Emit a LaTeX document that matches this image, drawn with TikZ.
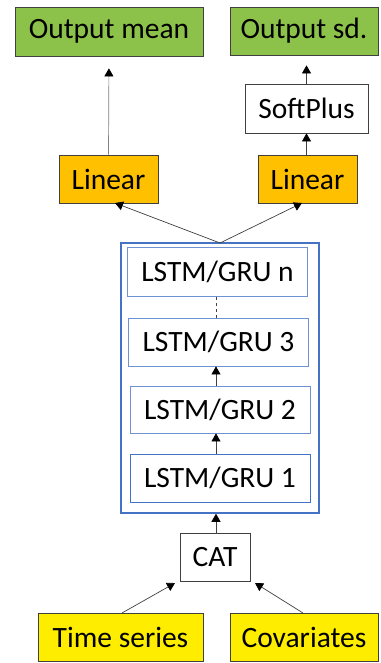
\documentclass[tikz,border=0pt]{standalone}
\usepackage{fontspec}
\setmainfont{Carlito}
\usetikzlibrary{arrows.meta,calc}
\definecolor{outgreen}{RGB}{141,194,74}
\definecolor{lingold}{RGB}{255,192,0}
\definecolor{inyellow}{RGB}{255,237,0}
\definecolor{stackblue}{RGB}{68,114,196}
\definecolor{cellblue}{RGB}{110,146,210}
\definecolor{wire}{RGB}{64,64,64}
\tikzset{
  box/.style={draw=wire, line width=0.8pt, inner sep=0pt, minimum width=#1,
    font=\fontsize{29.5}{35}\selectfont},
  outbox/.style={box=#1, fill=outgreen},
  linbox/.style={box=#1, fill=lingold},
  inbox/.style={box=#1, fill=inyellow},
  cell/.style={box=180pt, fill=white, draw=cellblue},
  link/.style={draw=wire, line width=0.7pt, -{Triangle[width=9pt,length=8pt,color=black]}},
}
\begin{document}
\begin{tikzpicture}[x=1pt,y=-1pt]
\useasboundingbox (0,0) rectangle (380,663);
% outputs
\node[outbox=188pt, minimum height=49pt] (outmean) at (109,31.5) {Output mean};
\node[outbox=148pt, minimum height=48pt] (outsd) at (304,31) {Output sd.};
\node[box=123pt, minimum height=49pt, fill=white] (soft) at (306.5,108.5) {SoftPlus};
% linear heads
\node[linbox=99pt, minimum height=48pt] (linL) at (108.5,179) {Linear};
\node[linbox=99pt, minimum height=48pt] (linR) at (307.5,179) {Linear};
% recurrent stack
\node[draw=stackblue, line width=1.5pt, minimum width=198pt, minimum height=270pt, inner sep=0pt] (stack) at (220,378) {};
\node[cell, minimum height=49pt] (ln) at (217.5,272) {LSTM/GRU n};
\node[cell, minimum height=48pt] (l3) at (218.5,342) {LSTM/GRU 3};
\node[cell, minimum height=47pt] (l2) at (220,409.5) {LSTM/GRU 2};
\node[cell, minimum height=48pt, draw=stackblue] (l1) at (220,478) {LSTM/GRU 1};
% inputs
\node[box=70pt, minimum height=48pt, fill=white] (cat) at (215,557) {CAT};
\node[inbox=165pt, minimum height=48pt] (ts) at (120.5,637) {Time series};
\node[inbox=148pt, minimum height=48pt] (cov) at (304,637) {Covariates};
% connector end points
\coordinate (split) at (220,243);
\coordinate (linLin) at (115,203);
\coordinate (linRin) at (302,203);
\coordinate (catL) at (175,583);
\coordinate (catR) at (255,583);
\coordinate (tsout) at (122,613);
\coordinate (covout) at (303,613);
% connectors
\draw[link, draw=gray, shorten >=12pt] (linL.north) -- (outmean.south);
\draw[link] (linR.north -| soft.south) -- (soft.south);
\draw[link, shorten >=10pt] (soft.north) -- (soft.north |- outsd.south);
\draw[link] (split) -- (linLin);
\draw[link] (split) -- (linRin);
\draw[link] (l1.north -| 216,0) -- (l2.south -| 216,0);
\draw[link] (l2.north -| 216,0) -- (l3.south -| 216,0);
\draw[draw=wire, line width=0.6pt, dashed] (l3.north -| 216,0) -- (ln.south -| 216,0);
\draw[link] (cat.north -| 216,0) -- (stack.south -| 216,0);
\draw[link] (tsout) -- (catL);
\draw[link] (covout) -- (catR);
\end{tikzpicture}
\end{document}
